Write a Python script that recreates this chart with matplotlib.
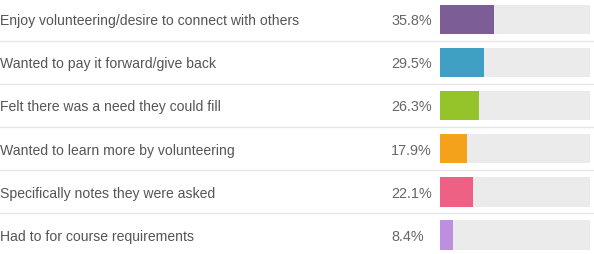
import matplotlib.pyplot as plt

labels = [
    "Enjoy volunteering/desire to connect with others",
    "Wanted to pay it forward/give back",
    "Felt there was a need they could fill",
    "Wanted to learn more by volunteering",
    "Specifically notes they were asked",
    "Had to for course requirements",
]
values = [35.8, 29.5, 26.3, 17.9, 22.1, 8.4]
colors = ["#7d5d95", "#3fa0c3", "#94c429", "#f4a21b", "#ee6185", "#bd8fdf"]

plt.rcParams["font.family"] = ["Liberation Sans", "DejaVu Sans"]

W, H = 594, 254
pitch = 43.1
top = 19.5 / pitch
bottom = (H - 19.5) / pitch

fig = plt.figure(figsize=(W / 100, H / 100), dpi=100)
ax = fig.add_axes([0, 0, 1, 1])
ax.set_xlim(0, W)
ax.set_ylim(bottom, -top)
ax.axis("off")

# bar track axes: 0-100%
bx = fig.add_axes([440 / W, 0, 150 / W, 1])
bx.set_xlim(0, 100)
bx.set_ylim(bottom, -top)
bx.axis("off")

rows = range(len(labels))
bx.barh(rows, [100] * len(labels), height=0.68, color="#ebebeb")
bx.barh(rows, values, height=0.68, color=colors)

for i, (lab, v) in enumerate(zip(labels, values)):
    ax.text(0, i + 0.04, lab, va="center", ha="left", fontsize=10.1, color="#555555")
    ax.text(391, i + 0.04, f"{v}%", va="center", ha="left", fontsize=10.4, color="#666666")
    if i < len(labels) - 1:
        ax.axhline(i + 0.5, color="#e6e6e6", lw=1)

fig.savefig("out.png", dpi=100)
